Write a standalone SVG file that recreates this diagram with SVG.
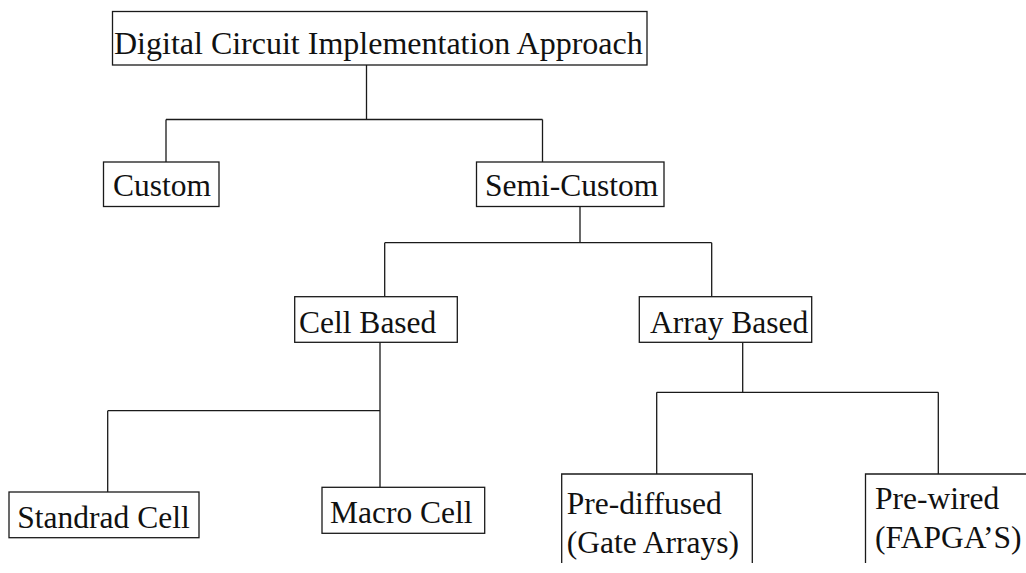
<svg xmlns="http://www.w3.org/2000/svg" width="1026" height="573" viewBox="0 0 1026 573">
  <style>
    .box { fill: #ffffff; stroke: #1a1a1a; stroke-width: 1.3; }
    .open { fill: none; stroke: #1a1a1a; stroke-width: 1.3; }
    .wire { fill: none; stroke: #1a1a1a; stroke-width: 1.3; }
    .lbl { font-family: "Liberation Serif", "Times New Roman", serif; font-size: 31.5px; fill: #111111; }
    .title { font-size: 32px; }
  </style>
  <rect width="1026" height="573" fill="#ffffff"/>

  <!-- tree connectors -->
  <g id="connectors">
    <path class="wire" d="M366.5 65 V119.5 M166 119.5 H542.5 M166 119.5 V162 M542.5 119.5 V162"/>
    <path class="wire" d="M580 206.5 V242.7 M384.7 242.7 H711.7 M384.7 242.7 V296.7 M711.7 242.7 V296.7"/>
    <path class="wire" d="M380 342.3 V487.3 M107.7 410.7 H380 M107.7 410.7 V492"/>
    <path class="wire" d="M742.7 342.3 V392.3 M656.7 392.3 H938.3 M656.7 392.3 V474 M938.3 392.3 V474"/>
  </g>

  <g id="root">
    <rect class="box" x="112.5" y="11.5" width="534.5" height="53.5"/>
    <text class="lbl title" x="114" y="54">Digital Circuit Implementation Approach</text>
  </g>

  <g id="custom">
    <rect class="box" x="103.5" y="162" width="115.5" height="44.5"/>
    <text class="lbl" x="113" y="196">Custom</text>
  </g>

  <g id="semi-custom">
    <rect class="box" x="476.5" y="162" width="187.5" height="44.5"/>
    <text class="lbl" x="485" y="196">Semi-Custom</text>
  </g>

  <g id="cell-based">
    <rect class="box" x="294.7" y="296.7" width="162.6" height="45.6"/>
    <text class="lbl" x="299" y="333">Cell Based</text>
  </g>

  <g id="array-based">
    <rect class="box" x="639.3" y="296.7" width="172.4" height="45.6"/>
    <text class="lbl" x="650" y="333">Array Based</text>
  </g>

  <g id="standard-cell">
    <rect class="box" x="9" y="492" width="190" height="45.7"/>
    <text class="lbl" x="17.3" y="528">Standrad Cell</text>
  </g>

  <g id="macro-cell">
    <rect class="box" x="322" y="487.3" width="162.7" height="46"/>
    <text class="lbl" x="330" y="523">Macro Cell</text>
  </g>

  <!-- the two lowest boxes run past the bottom/right edge of the sheet -->
  <g id="pre-diffused">
    <path class="open" d="M561.7 563 V474 H752.3 V563"/>
    <text class="lbl" x="566.7" y="514">Pre-diffused</text>
    <text class="lbl" x="566.7" y="553">(Gate Arrays)</text>
  </g>

  <g id="pre-wired">
    <path class="open" d="M865.5 563 V474 H1026"/>
    <text class="lbl" x="875" y="509">Pre-wired</text>
    <text class="lbl" x="875" y="548">(FAPGA’S)</text>
  </g>
</svg>
